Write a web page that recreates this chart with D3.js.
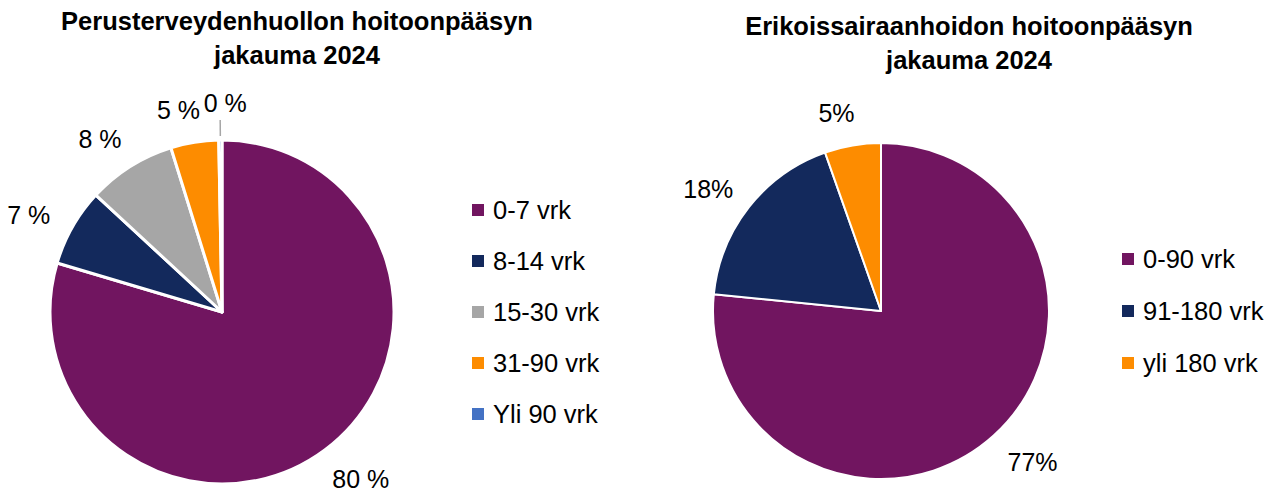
<!DOCTYPE html>
<html>
<head>
<meta charset="utf-8">
<script src="https://cdn.jsdelivr.net/npm/d3@7"></script>
<style>
  html, body { margin: 0; padding: 0; background: #fff; }
  svg { display: block; font-family: "Liberation Sans", Arial, sans-serif; }
</style>
</head>
<body>
<svg id="chart" width="1283" height="493"></svg>
<script>
// left chart: perusterveydenhuolto
const leftTitle = ["Perusterveydenhuollon hoitoonpääsyn", "jakauma 2024"];
const leftCategories = ["0-7 vrk", "8-14 vrk", "15-30 vrk", "31-90 vrk", "Yli 90 vrk"];
const leftValues = [79.6, 7.3, 8.3, 4.5, 0.3];
const leftLabels = ["80 %", "7 %", "8 %", "5 %", "0 %"];
const leftColors = ["#711560", "#13295c", "#a6a6a6", "#fd8c00", "#4472c4"];

// right chart: erikoissairaanhoito
const rightTitle = ["Erikoissairaanhoidon hoitoonpääsyn", "jakauma 2024"];
const rightCategories = ["0-90 vrk", "91-180 vrk", "yli 180 vrk"];
const rightValues = [76.6, 18.0, 5.4];
const rightLabels = ["77%", "18%", "5%"];
const rightColors = ["#711560", "#13295c", "#fd8c00"];

const svg = d3.select("#chart");
const labelTurn = -3 * Math.PI / 180; // labels sit a bit counter-clockwise of mid-angle

function polar(rad, ang) {
  return [rad * Math.sin(ang), -rad * Math.cos(ang)];
}

// distance of label centre outside the rim, wider labels sideways need more room
function labelGap(a) {
  return 31 + 15 * Math.abs(Math.sin(a)) + 6 * Math.max(0, -Math.cos(a));
}

function drawPie(opts) {
  const g = svg.append("g");

  // title
  const title = g.append("text")
    .attr("text-anchor", "middle")
    .attr("font-weight", "bold")
    .attr("font-size", opts.titleSize)
    .attr("fill", "#000");
  opts.title.forEach((line, i) => {
    title.append("tspan")
      .attr("x", opts.titleX)
      .attr("y", opts.titleY + i * 34)
      .text(line);
  });

  const data = opts.values.map((v, i) => ({
    cat: opts.categories[i], value: v, label: opts.labels[i], color: opts.colors[i]
  }));

  const pie = d3.pie().sort(null).value(d => d.value);
  const arcs = pie(data);
  const arc = d3.arc().innerRadius(0).outerRadius(opts.r);

  const pg = g.append("g").attr("transform", `translate(${opts.cx},${opts.cy})`);

  pg.selectAll("path.slice")
    .data(arcs)
    .join("path")
    .attr("class", "slice")
    .attr("d", arc)
    .attr("fill", d => d.data.color)
    .attr("stroke", "#fff")
    .attr("stroke-width", opts.strokeW)
    .attr("stroke-linejoin", "round");

  const mid = d => (d.startAngle + d.endAngle) / 2;
  const isTiny = d => d.data.value < 1;

  // leader line for very small slices
  pg.selectAll("line.leader")
    .data(arcs.filter(isTiny))
    .join("line")
    .attr("class", "leader")
    .attr("x1", d => polar(opts.r + 4, mid(d))[0])
    .attr("y1", d => polar(opts.r + 4, mid(d))[1])
    .attr("x2", d => polar(opts.r + 20, mid(d))[0])
    .attr("y2", d => polar(opts.r + 20, mid(d))[1])
    .attr("stroke", "#a6a6a6")
    .attr("stroke-width", 1.5);

  // data labels, outside end
  pg.selectAll("text.lbl")
    .data(arcs)
    .join("text")
    .attr("class", "lbl")
    .attr("transform", d => {
      if (isTiny(d)) {
        const [x, y] = polar(opts.r + 20, mid(d));
        return `translate(${x + 5},${y - 17})`;
      }
      const a = mid(d) + labelTurn;
      const [x, y] = polar(opts.r + labelGap(a), a);
      return `translate(${x},${y})`;
    })
    .attr("text-anchor", "middle")
    .attr("dy", "0.35em")
    .attr("font-size", 25)
    .attr("fill", "#000")
    .text(d => d.data.label);

  // legend
  const y = d3.scalePoint()
    .domain(opts.categories)
    .range([opts.legendY0, opts.legendY0 + opts.legendStep * (opts.categories.length - 1)]);

  const lg = g.append("g");
  const items = lg.selectAll("g.item")
    .data(data)
    .join("g")
    .attr("class", "item")
    .attr("transform", d => `translate(${opts.legendX},${y(d.cat)})`);
  items.append("rect")
    .attr("x", 0).attr("y", -6)
    .attr("width", 12).attr("height", 12)
    .attr("fill", d => d.color);
  items.append("text")
    .attr("x", 21)
    .attr("dy", "0.35em")
    .attr("font-size", 25.5)
    .attr("fill", "#000")
    .text(d => d.cat);
}

drawPie({
  title: leftTitle, titleX: 297, titleY: 30, titleSize: 25.5,
  categories: leftCategories, values: leftValues, labels: leftLabels, colors: leftColors,
  cx: 222, cy: 312, r: 172, strokeW: 3,
  legendX: 472, legendY0: 210, legendStep: 51
});

drawPie({
  title: rightTitle, titleX: 969, titleY: 35, titleSize: 25.5,
  categories: rightCategories, values: rightValues, labels: rightLabels, colors: rightColors,
  cx: 881, cy: 311, r: 168, strokeW: 2,
  legendX: 1122, legendY0: 259, legendStep: 52
});
</script>
</body>
</html>
